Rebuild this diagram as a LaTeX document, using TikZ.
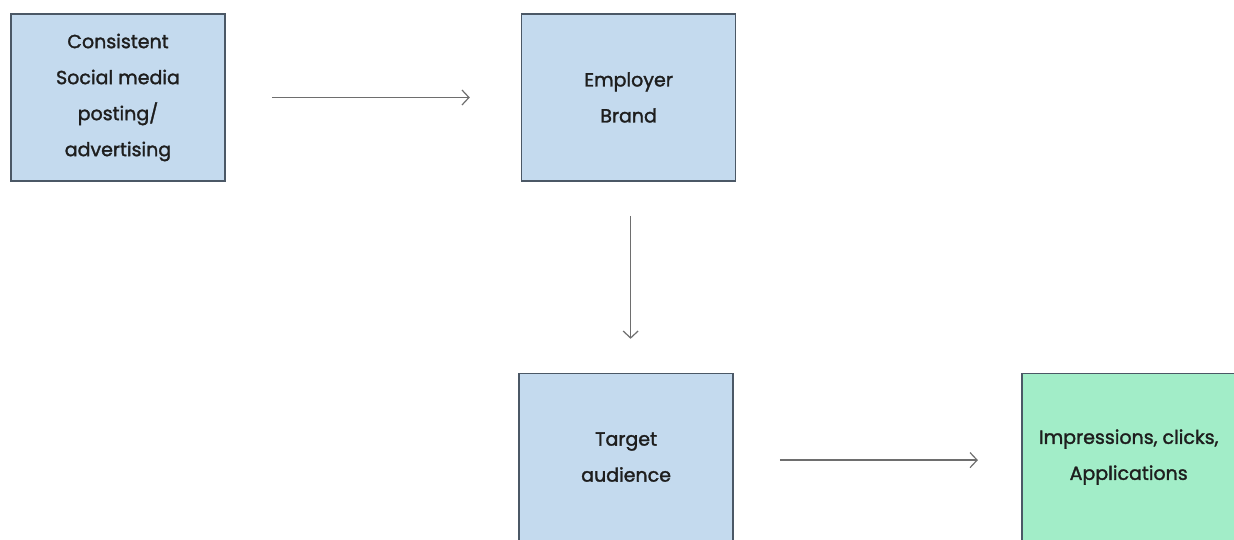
\documentclass[tikz,border=0pt]{standalone}
\usepackage{fontspec}
\newfontfamily\sketchfont{Poppins}[AutoFakeBold=1.6]
\usepackage{tikz}
\usetikzlibrary{arrows.meta,positioning}
\definecolor{boxblue}{HTML}{C4DAEE}
\definecolor{boxgreen}{HTML}{A2EDC8}
\definecolor{boxline}{HTML}{4B5866}
\definecolor{arrowgray}{HTML}{6E6E6E}
\definecolor{inkblack}{HTML}{1E1E1E}
\tikzset{
  stagebox/.style={
    rectangle, draw=boxline, line width=1.6pt, fill=boxblue,
    minimum width=214pt, minimum height=167pt,
    align=center, text=inkblack, inner sep=2pt,
    font=\sketchfont\bfseries\fontsize{19}{36}\selectfont
  },
  resultbox/.style={stagebox, fill=boxgreen},
  flowarrow/.style={-{Straight Barb[length=7pt,width=15pt,line width=1.2pt]},
    line width=1.4pt, draw=arrowgray},
}
\begin{document}
\begin{tikzpicture}[x=1pt, y=-1pt]
  \useasboundingbox (0,0) rectangle (1234,540);
  \node (posting) [stagebox] at (118,97.5) {Consistent\\Social media\\posting/\\advertising};
  \node (brand) [stagebox, right=295pt of posting] {Employer\\Brand};
  \node (audience) [stagebox, below=191pt of brand, xshift=-2.5pt] {Target\\audience};
  \node (outcome) [resultbox, right=287pt of audience] {Impressions, clicks,\\Applications};
  \draw[flowarrow, shorten <=46pt, shorten >=51pt] (posting) -- (brand);
  \draw[flowarrow, shorten <=34pt, shorten >=34pt] (brand.south) ++(2pt,0) coordinate (bs) (bs) -- (bs |- audience.north);
  \draw[flowarrow, shorten <=46pt, shorten >=43pt] ([yshift=-3pt]audience.east) -- ([yshift=-3pt]outcome.west);
\end{tikzpicture}
\end{document}
